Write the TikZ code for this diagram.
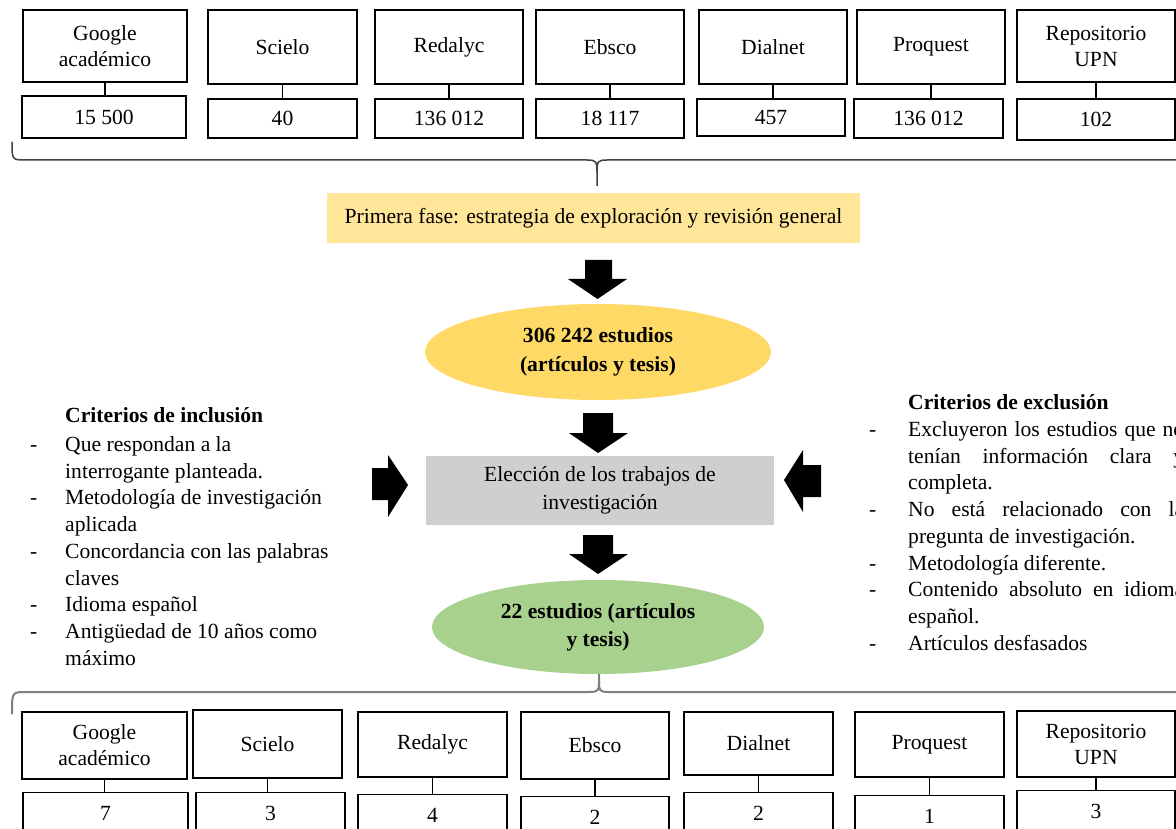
\documentclass[tikz,border=0pt]{standalone}
\usepackage{fontspec}
\setmainfont{Liberation Serif}
\usetikzlibrary{shapes.geometric}
\definecolor{pfyellow}{HTML}{FFE699}
\definecolor{elgold}{HTML}{FFD966}
\definecolor{elgreen}{HTML}{A9D18E}
\definecolor{boxgray}{HTML}{D0CECE}
\definecolor{bracedark}{HTML}{404040}
\definecolor{bracelight}{HTML}{7F7F7F}
\begin{document}
\begin{tikzpicture}[x=1pt,y=-1pt,
  every node/.style={font=\fontsize{21.6}{26}\selectfont, inner sep=0pt, text=black},
  dbbox/.style={draw=black, line width=1.2pt, align=center},
  valbox/.style={draw=black, line width=1.2pt},
  lowval/.style={draw=black, line width=1.2pt, anchor=north, inner ysep=4pt, text height=24pt, text depth=40pt},
  link/.style={draw=black, line width=1.2pt},
  blockarrow/.style={fill=black, draw=none},
  topbrace/.style={draw=bracedark, line width=1.5pt, line join=round},
  lowbrace/.style={draw=bracelight, line width=2pt, line join=round},
  critlist/.style={anchor=north west, font=\fontsize{21.6}{26.7}\selectfont},
]
\useasboundingbox (0,0) rectangle (1176,829);
\fill[white] (0,0) rectangle (1176,829);

% ---------------- top row ----------------
\node[dbbox, minimum width=164pt, minimum height=72pt] (tg) at (105,46) {Google\\académico};
\node[dbbox, minimum width=149pt, minimum height=74pt] (ts) at (282.5,47) {Scielo};
\node[dbbox, minimum width=148pt, minimum height=74pt] (tr) at (449,47) {Redalyc};
\node[dbbox, minimum width=148pt, minimum height=74pt] (te) at (610,47) {Ebsco};
\node[dbbox, minimum width=148pt, minimum height=74pt] (td) at (773,47) {Dialnet};
\node[dbbox, minimum width=148pt, minimum height=74pt] (tp) at (931,47) {Proquest};
\node[dbbox, minimum width=158pt, minimum height=72pt] (tu) at (1096,46) {Repositorio\\UPN};

\node[valbox, minimum width=164pt, minimum height=42pt] (tvg) at (104,117) {15 500};
\node[valbox, minimum width=149pt, minimum height=39pt] (tvs) at (282.5,118.5) {40};
\node[valbox, minimum width=148pt, minimum height=39pt] (tvr) at (449,118.5) {136 012};
\node[valbox, minimum width=148pt, minimum height=39pt] (tve) at (610,118.5) {18 117};
\node[valbox, minimum width=148pt, minimum height=37pt] (tvd) at (771,117.5) {457};
\node[valbox, minimum width=149pt, minimum height=39pt] (tvp) at (928.5,118.5) {136 012};
\node[valbox, minimum width=158pt, minimum height=41pt] (tvu) at (1096,119.5) {102};

\foreach \a/\b in {tg/tvg, ts/tvs, tr/tvr, te/tve, td/tvd, tp/tvp, tu/tvu}
  \draw[link] (\a.south) -- (\a.south |- \b.north);

% top brace
\draw[topbrace] (12,142) .. controls (12,160) and (12,160) .. (26,160) -- (587,160)
  .. controls (597,160) and (597,162) .. (597,172) -- (597,186);
\draw[topbrace] (597,172) .. controls (597,162) and (597,160) .. (607,160) -- (1190,160);

% ---------------- centre column ----------------
\node[fill=pfyellow, minimum width=533pt, minimum height=50pt] (pf) at (593.5,218)
  {Primera fase: estrategia de exploración y revisión general};

\fill[blockarrow] (585,260) -- (612,260) -- (612,279) -- (627,279) -- (597.5,299) -- (568,279) -- (585,279) -- cycle;

\node[ellipse, fill=elgold, minimum width=346pt, minimum height=96pt, align=center,
  font=\fontsize{21.6}{29}\selectfont\bfseries] (e1) at (598,352)
  {306 242 estudios\\(artículos y tesis)};

\fill[blockarrow] (583,413) -- (613,413) -- (613,433) -- (628,433) -- (598,453) -- (569,433) -- (583,433) -- cycle;

\node[fill=boxgray, minimum width=348pt, minimum height=69pt, align=center,
  font=\fontsize{21.6}{28}\selectfont] (el) at (600,490.5)
  {Elección de los trabajos de\\investigación};

\fill[blockarrow] (583,535) -- (613,535) -- (613,554) -- (628,554) -- (598,574) -- (569,554) -- (583,554) -- cycle;

% side arrows
\fill[blockarrow] (372,468) -- (388,468) -- (388,455) -- (408,485) -- (388,517) -- (388,500) -- (372,500) -- cycle;
\fill[blockarrow] (821,465) -- (803,465) -- (803,450) -- (784,480) -- (803,512) -- (803,497) -- (821,497) -- cycle;

\node[ellipse, fill=elgreen, minimum width=332pt, minimum height=94pt, align=center,
  font=\fontsize{21.6}{28}\selectfont\bfseries] (e2) at (598,627)
  {22 estudios (artículos\\y tesis)};

% ---------------- criteria ----------------
\node[critlist] (incl) at (30,404) {\begin{tabular}{@{}p{35pt}@{}l@{}}
 & \textbf{Criterios de inclusión}\\[2pt]
- & Que respondan a la\\
 & interrogante planteada.\\
- & Metodología de investigación\\
 & aplicada\\
- & Concordancia con las palabras\\
 & claves\\
- & Idioma español\\
- & Antigüedad de 10 años como\\
 & máximo
\end{tabular}};

\node[critlist] (excl) at (869,391) {\begin{tabular}{@{}p{39pt}@{}l@{}}
 & \textbf{Criterios de exclusión}\\
- & \makebox[276pt][s]{Excluyeron los estudios que no}\\
 & \makebox[276pt][s]{tenían información clara y}\\
 & completa.\\
- & \makebox[276pt][s]{No está relacionado con la}\\
 & pregunta de investigación.\\
- & Metodología diferente.\\
- & \makebox[276pt][s]{Contenido absoluto en idioma}\\
 & español.\\
- & Artículos desfasados
\end{tabular}};

% bottom brace
\draw[lowbrace] (12,714) .. controls (12,692) and (12,692) .. (26,692) -- (589,692)
  .. controls (599,692) and (599,690) .. (599,682) -- (599,674);
\draw[lowbrace] (599,682) .. controls (599,690) and (599,692) .. (609,692) -- (1190,692);

% ---------------- bottom row ----------------
\node[dbbox, minimum width=165pt, minimum height=67pt] (bg) at (104.5,745.5) {Google\\académico};
\node[dbbox, minimum width=149pt, minimum height=68pt] (bs) at (267.5,744) {Scielo};
\node[dbbox, minimum width=149pt, minimum height=65pt] (br) at (432.5,744.5) {Redalyc};
\node[dbbox, minimum width=148pt, minimum height=67pt] (be) at (595,745.5) {Ebsco};
\node[dbbox, minimum width=149pt, minimum height=63pt] (bd) at (758.5,743.5) {Dialnet};
\node[dbbox, minimum width=149pt, minimum height=65pt] (bp) at (929.5,744.5) {Proquest};
\node[dbbox, minimum width=158pt, minimum height=66pt] (bu) at (1096,744) {Repositorio\\UPN};

\node[lowval, minimum width=165pt] (bvg) at (105.5,792) {7};
\node[lowval, minimum width=149pt] (bvs) at (270.5,792) {3};
\node[lowval, minimum width=149pt] (bvr) at (432.5,794) {4};
\node[lowval, minimum width=148pt] (bve) at (595,796) {2};
\node[lowval, minimum width=149pt] (bvd) at (758.5,792) {2};
\node[lowval, minimum width=149pt] (bvp) at (929.5,795) {1};
\node[lowval, minimum width=158pt] (bvu) at (1096,790) {3};

\foreach \a/\b in {bg/bvg, bs/bvs, br/bvr, be/bve, bd/bvd, bp/bvp, bu/bvu}
  \draw[link] (\a.south) -- (\a.south |- \b.north);
\end{tikzpicture}
\end{document}
